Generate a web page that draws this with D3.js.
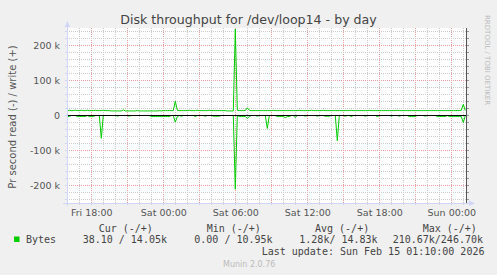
<!DOCTYPE html>
<html><head><meta charset="utf-8">
<script src="https://cdn.jsdelivr.net/npm/d3@7"></script>
<style>
html,body{margin:0;padding:0;background:#f0f0f0;}
svg{display:block;}
</style></head><body>
<svg id="c" width="497" height="275"></svg>
<script>
const title = "Disk throughput for /dev/loop14 - by day";
const yAxisLabel = "Pr second read (-) / write (+)";
const seriesName = "Bytes";
const startTime = new Date(2026, 1, 13, 16, 0, 0);
const stepMinutes = 10;
// write (+) in kB/s, one value every 10 minutes
const writeK = [
14,15,14,14,15,14,14,15,14,14, 15,14,14,14,15,14,14,14,15,14,
14,14,13,13,13,13,13,13,16,13, 13,13,13,13,13,14,13,13,13,13,
13,13,13,13,13,13,14,13,14,14, 14,14,14,14,41,15,14,14,14,14,
14,15,14,14,14,15,14,14,14,14, 14,15,14,14,14,14,14,14,14,14,
13,13,13,13,246.7,15,14,14,14,14, 22,15,14,14,14,14,14,14,14,14,
14,14,14,15,14,14,14,14,14,14, 14,14,14,14,14,14,15,14,14,14,
14,14,15,14,14,14,14,14,15,14, 14,14,14,14,14,14,14,14,14,14,
14,14,15,14,14,14,14,14,14,14, 14,15,14,14,14,14,14,14,14,14,
14,14,14,14,14,15,14,14,14,14, 14,14,14,14,14,14,14,14,14,14,
14,14,14,14,14,14,14,14,14,14, 14,14,14,14,14,14,14,15,32,14.05
];
// read (-) in kB/s
const readK = [
3,3,0,0,0,3,3,3,3,3, 0,3,3,3,0,0,0,65,0,0,
0,0,0,0,0,2,0,0,0,0, 0,2,0,0,0,0,0,0,0,0,
0,0,3,3,3,3,3,3,3,3, 3,3,0,0,19,3,0,2,0,0,
0,0,0,0,3,0,0,0,0,2, 0,0,0,2,2,2,2,0,0,0,
0,0,0,0,210.67,0,3,3,3,3, 8,3,0,0,0,2,0,0,0,0,
37,0,0,0,0,3,3,3,3,6, 3,3,0,0,6,0,0,0,0,2,
0,0,0,0,0,2,0,0,0,2, 2,2,0,0,0,72,0,0,0,2,
0,0,3,0,0,0,0,0,0,2, 0,0,0,0,0,3,0,0,0,0,
0,0,2,0,0,0,2,0,0,0, 0,3,3,3,3,0,0,0,0,2,
0,0,0,0,0,3,3,3,3,3, 0,3,3,3,3,3,3,3,20,0.04
];
const xTickTimes = [new Date(2026,1,13,18), new Date(2026,1,14,0), new Date(2026,1,14,6),
                    new Date(2026,1,14,12), new Date(2026,1,14,18), new Date(2026,1,15,0)];
const xTickLabels = ["Fri 18:00","Sat 00:00","Sat 06:00","Sat 12:00","Sat 18:00","Sun 00:00"];
const yTickValues = [-200000,-100000,0,100000,200000];
const yTickLabels = ["-200 k","-100 k","0","100 k","200 k"];
const legendHeaders = ["Cur (-/+)","Min (-/+)","Avg (-/+)","Max (-/+)"];
const legendValues = ["38.10 / 14.05k","0.00 / 10.95k","1.28k/ 14.83k","210.67k/246.70k"];
const lastUpdate = "Last update: Sun Feb 15 01:10:00 2026";
const footer = "Munin 2.0.76";
const watermark = "RRDTOOL / TOBI OETIKER";

const svg = d3.select("#c");
const L = 67, R = 467, T = 28, B = 203;
const green = "#00cc00";
const t0 = new Date(2026,1,13,15,58,30);
const t1 = new Date(t0.getTime() + 400*300*1000);
const x = d3.scaleTime().domain([t0, t1]).range([L, R]);
const y = d3.scaleLinear().domain([-250000, 250000]).range([B, T]);
const px = v => Math.round(v - 0.5) + 0.5;

svg.append("rect").attr("width",497).attr("height",275).attr("fill","#f0f0f0");
svg.append("rect").attr("x",L).attr("y",T).attr("width",R-L).attr("height",B-T).attr("fill","#ffffff");

const data = writeK.map((w,i) => ({t: new Date(startTime.getTime() + i*stepMinutes*60000), w: w*1000, r: readK[i]*1000}));

// grid
const g = svg.append("g");
const hourTicks = d3.timeHour.every(1).range(t0, t1);
hourTicks.forEach(t => {
  const major = t.getHours() % 3 === 0;
  g.append("line").attr("x1",px(x(t))).attr("x2",px(x(t))).attr("y1",T).attr("y2",B)
    .attr("stroke", major ? "#e8a0a0" : "#cccccc").attr("stroke-dasharray","1,1");
});
d3.range(-240000, 240001, 20000).forEach(v => {
  const major = v % 100000 === 0;
  g.append("line").attr("x1",L).attr("x2",R).attr("y1",px(y(v))).attr("y2",px(y(v)))
    .attr("stroke", major ? "#e8a0a0" : "#cccccc").attr("stroke-dasharray","1,1");
  g.append("line").attr("x1",L-2).attr("x2",L).attr("y1",px(y(v))).attr("y2",px(y(v))).attr("stroke","#cfd6f8");
  g.append("line").attr("x1",R).attr("x2",R+2).attr("y1",px(y(v))).attr("y2",px(y(v))).attr("stroke","#999");
});
hourTicks.forEach(t => {
  g.append("line").attr("x1",px(x(t))).attr("x2",px(x(t))).attr("y1",B).attr("y2",B+2).attr("stroke","#cfd6f8");
});

// series
const clip = svg.append("clipPath").attr("id","pc").append("rect").attr("x",L).attr("y",T).attr("width",R-L).attr("height",B-T);
const lineW = d3.line().x(d => x(d.t)).y(d => y(d.w));
const lineR = d3.line().x(d => x(d.t)).y(d => y(-d.r));
svg.append("path").datum(data).attr("d",lineR).attr("fill","none").attr("stroke",green).attr("stroke-width",1).attr("clip-path","url(#pc)");
svg.append("path").datum(data).attr("d",lineW).attr("fill","none").attr("stroke",green).attr("stroke-width",1).attr("clip-path","url(#pc)");
// zero rule
svg.append("line").attr("x1",L).attr("x2",R).attr("y1",px(y(0))).attr("y2",px(y(0))).attr("stroke","#000").attr("stroke-width",1.2);

// axes lines
svg.append("line").attr("x1",px(L)).attr("x2",px(L)).attr("y1",B+3).attr("y2",T-3).attr("stroke","#cfd6f8");
svg.append("path").attr("d",`M${L-2.5},${T-1} L${L+0.5+2.5},${T-1} L${L+0.5},${T-7} Z`).attr("fill","#cfd6f8");
svg.append("line").attr("x1",L-4).attr("x2",R+3).attr("y1",px(B)).attr("y2",px(B)).attr("stroke","#cfd6f8");
svg.append("path").attr("d",`M${R+2},${B-2.5} L${R+2},${B+3} L${R+8},${B+0.5} Z`).attr("fill","#cfd6f8");
svg.append("line").attr("x1",px(R-1)).attr("x2",px(R-1)).attr("y1",T).attr("y2",B).attr("stroke","#555");

// y tick labels through axis
const yAxis = d3.axisLeft(y).tickValues(yTickValues).tickSize(0).tickPadding(0)
  .tickFormat((d,i) => yTickLabels[i]);
const ya = svg.append("g").attr("transform",`translate(${L-7},0)`).call(yAxis);
ya.select(".domain").remove();
ya.selectAll("text").attr("font-family","DejaVu Sans").attr("font-size","9.5px").attr("fill","#555").attr("dy","0.35em");

const xAxis = d3.axisBottom(x).tickValues(xTickTimes).tickSize(0).tickPadding(0)
  .tickFormat((d,i) => xTickLabels[i]);
const xa = svg.append("g").attr("transform",`translate(0,${B+13})`).call(xAxis);
xa.select(".domain").remove();
xa.selectAll("text").attr("font-family","DejaVu Sans").attr("font-size","9.5px").attr("fill","#555").attr("dy","0");

// title
svg.append("text").attr("x",248.5).attr("y",24).attr("text-anchor","middle")
  .attr("font-family","DejaVu Sans").attr("font-size","12.6px").attr("fill","#444").text(title);
// y label
svg.append("text").attr("transform","translate(15.5,117) rotate(-90)").attr("text-anchor","middle")
  .attr("font-family","DejaVu Sans").attr("font-size","10px").attr("fill","#555").text(yAxisLabel);
// watermark
svg.append("text").attr("transform","translate(485,15) rotate(90)").attr("text-anchor","start")
  .attr("font-family","DejaVu Sans").attr("font-size","7px").attr("fill","#bbb").text(watermark);

// legend
const mono = {"font-family":"DejaVu Sans Mono","font-size":"10px","fill":"#444"};
function txt(s, xx, yy, style) {
  const t = svg.append("text").attr("x",xx).attr("y",yy).text(s);
  Object.entries(style).forEach(([k,v]) => t.attr(k,v));
  return t;
}
const headerX = [98.7, 206.7, 315, 422.7];
const valueX = [82.7, 194.3, 299.3, 392.7];
legendHeaders.forEach((h,i) => txt(h, headerX[i], 231.5, mono));
svg.append("rect").attr("x",14).attr("y",236.5).attr("width",5.5).attr("height",5.5).attr("fill",green);
txt(seriesName, 26, 243, mono);
legendValues.forEach((v,i) => txt(v, valueX[i], 243, mono));
txt(lastUpdate, 261.7, 255, mono);
txt(footer, 223, 267, {"font-family":"DejaVu Sans","font-size":"8px","fill":"#bbb"});
</script>
</body></html>
